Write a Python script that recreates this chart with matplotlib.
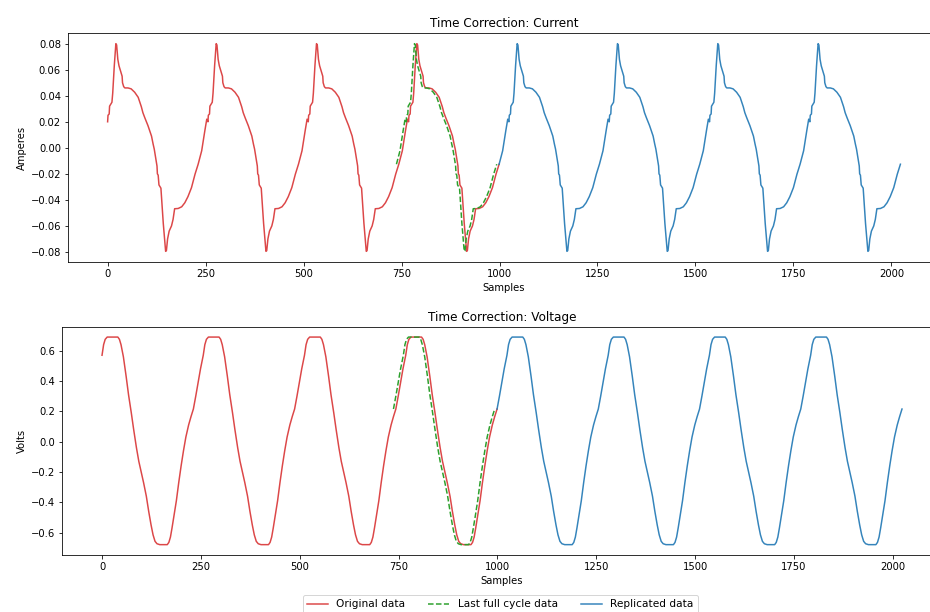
import numpy as np
import matplotlib
matplotlib.use("Agg")
import matplotlib.pyplot as plt

# samples per mains cycle and sample ranges of the three traces
period = 256
orig_range = (0, 999)
last_cycle_range = (743, 999)
repl_range = (999, 2023)
cycle_shift = -6   # time correction applied to the last full cycle

# one cycle of current readings (offset in samples, amperes)
cur_off = [0, 1, 4, 5, 9, 11, 13, 17, 21, 23, 26, 29, 33, 37, 38, 41, 44, 52,
           60, 69, 78, 86, 90, 95, 103, 108, 112, 116, 119, 124, 126, 127, 129,
           131, 134, 136, 142, 148, 150, 153, 157, 163, 167, 171, 180, 189, 197,
           205, 214, 223, 231, 240, 248, 253]
cur_val = [0.020, 0.025, 0.026, 0.032, 0.034, 0.035, 0.042, 0.063, 0.080, 0.079,
           0.068, 0.063, 0.059, 0.055, 0.050, 0.047, 0.046, 0.046, 0.0453, 0.0427,
           0.0388, 0.0316, 0.027, 0.023, 0.017, 0.0125, 0.009, 0.003, -0.001,
           -0.010, -0.014, -0.020, -0.021, -0.0285, -0.030, -0.031, -0.058,
           -0.0795, -0.079, -0.070, -0.064, -0.060, -0.055, -0.0468, -0.0466,
           -0.0453, -0.0422, -0.0375, -0.0306, -0.0203, -0.0126, -0.0023, 0.013,
           0.022]

# one cycle of voltage readings (offset in samples, volts)
volt_off = [0, 4, 8, 13, 40, 44, 48, 54, 61, 67, 74, 80, 87, 93, 99, 105, 112,
            118, 124, 129, 134, 139, 146, 165, 169, 173, 177, 182, 188, 194, 200,
            206, 212, 219, 225, 231, 237, 243, 249]
volt_val = [0.57, 0.64, 0.675, 0.69, 0.69, 0.675, 0.64, 0.56, 0.43, 0.31, 0.19,
            0.08, -0.04, -0.13, -0.20, -0.27, -0.36, -0.46, -0.55, -0.615, -0.658,
            -0.674, -0.68, -0.68, -0.665, -0.63, -0.57, -0.49, -0.39, -0.27, -0.16,
            -0.06, 0.03, 0.11, 0.165, 0.215, 0.30, 0.39, 0.48]


def trace(off, val, lo, hi):
    xs, ys = [], []
    for k in range(9):
        for o, v in zip(off, val):
            s = k * period + o
            if lo <= s <= hi:
                xs.append(s)
                ys.append(v)
    return np.array(xs), np.array(ys)


fig = plt.figure(figsize=(930 / 72, 612 / 72), dpi=72)
ax1 = fig.add_axes([0.0731, 0.5724, 0.9377, 0.3732])
ax2 = fig.add_axes([0.0667, 0.0931, 0.9462, 0.3731])

for ax, off, val, title, ylabel in [
        (ax1, cur_off, cur_val, "Time Correction: Current", "Amperes"),
        (ax2, volt_off, volt_val, "Time Correction: Voltage", "Volts")]:
    x, y = trace(off, val, *orig_range)
    ax.plot(x, y, color="tab:red", alpha=0.85, label="Original data")
    x, y = trace(off, val, *last_cycle_range)
    ax.plot(x + cycle_shift, y, color="tab:green", ls="--", label="Last full cycle data")
    x, y = trace(off, val, *repl_range)
    ax.plot(x, y, color="tab:blue", alpha=0.9, label="Replicated data")
    ax.set_title(title, fontsize=12)
    ax.set_xlabel("Samples", fontsize=10)
    ax.set_ylabel(ylabel, fontsize=10)
    ax.tick_params(labelsize=10)

ax1.set_yticks(np.arange(-0.08, 0.081, 0.02))
ax2.set_yticks(np.arange(-0.6, 0.61, 0.2))

handles, labels = ax1.get_legend_handles_labels()
fig.legend(handles, labels, loc="upper center", bbox_to_anchor=(0.538, 0.036),
           ncol=3, fontsize=10.5, columnspacing=2.2)

fig.savefig("out.png", dpi=72)
